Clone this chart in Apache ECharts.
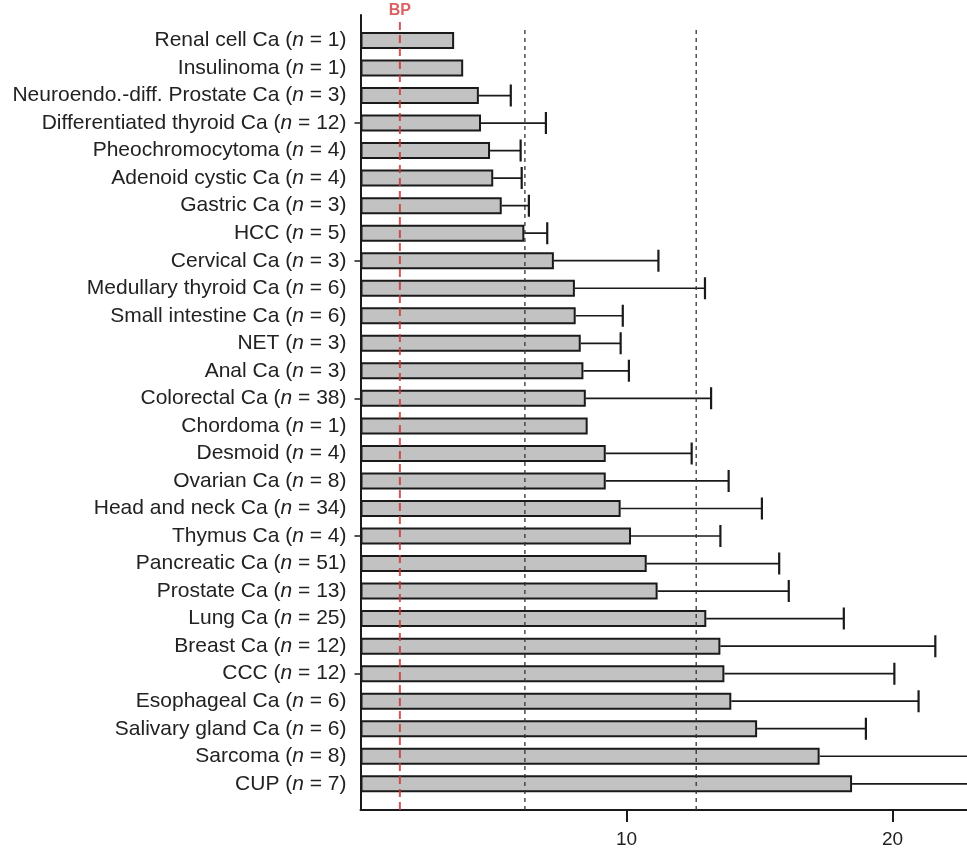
<!DOCTYPE html>
<html>
<head>
<meta charset="utf-8">
<script src="https://cdn.jsdelivr.net/npm/echarts@6/dist/echarts.min.js"></script>
<style>
html,body{margin:0;padding:0;background:#fff;}
#chart{width:967px;height:854px;}
</style>
</head>
<body>
<div id="chart"></div>
<script>
// ---- data ----
const categories = [
  "Renal cell Ca", "Insulinoma", "Neuroendo.-diff. Prostate Ca", "Differentiated thyroid Ca",
  "Pheochromocytoma", "Adenoid cystic Ca", "Gastric Ca", "HCC", "Cervical Ca",
  "Medullary thyroid Ca", "Small intestine Ca", "NET", "Anal Ca", "Colorectal Ca",
  "Chordoma", "Desmoid", "Ovarian Ca", "Head and neck Ca", "Thymus Ca", "Pancreatic Ca",
  "Prostate Ca", "Lung Ca", "Breast Ca", "CCC", "Esophageal Ca", "Salivary gland Ca",
  "Sarcoma", "CUP"
];
const counts = [1, 1, 3, 12, 4, 4, 3, 5, 3, 6, 6, 3, 3, 38, 1, 4, 8, 34, 4, 51, 13, 25, 12, 12, 6, 6, 8, 7];
const means = [3.52, 3.86, 4.45, 4.53, 4.87, 4.99, 5.31, 6.16, 7.27, 8.06, 8.09, 8.28, 8.38, 8.47,
  8.54, 9.22, 9.22, 9.78, 10.17, 10.76, 11.17, 13.0, 13.53, 13.68, 13.94, 14.91, 17.26, 18.48];
const errUpper = [null, null, 5.65, 6.97, 6.02, 6.06, 6.33, 7.02, 11.2, 12.95, 9.86, 9.78, 10.09, 13.18,
  null, 12.45, 13.84, 15.09, 13.53, 15.74, 16.1, 18.17, 21.61, 20.07, 20.98, 19.0, 25.0, 24.0];
const bpValue = 1.48;
const refValues = [6.18, 12.62];
const xTickInterval = 10;

// ---- layout constants ----
const W = 967;
const X0 = 360.5, PX_PER_UNIT = 26.6;
const XMAX = (W - X0) / PX_PER_UNIT;   // visible part of the axis (image is cropped at the right)
const GRID_W = W - X0;
const AXIS_TOP = 15, AXIS_Y = 810;
const BAND = 27.53, BARS_TOP = 26.7;
const FONT = "'Liberation Sans', Arial, sans-serif";
const INK = '#1a1a1a';

const chart = echarts.init(document.getElementById('chart'), null, {renderer: 'canvas'});

const errData = errUpper.map((e, i) => [i, means[i], e]).filter(d => d[2] !== null);

const option = {
  backgroundColor: '#fff',
  animation: false,
  grid: [
    {left: X0, top: AXIS_TOP, width: GRID_W, height: AXIS_Y - AXIS_TOP, containLabel: false},
    {left: X0, top: BARS_TOP, width: GRID_W, height: BAND * categories.length, containLabel: false}
  ],
  xAxis: [
    {
      gridIndex: 0, type: 'value', min: 0, max: XMAX, interval: xTickInterval,
      axisLine: {show: true, lineStyle: {color: INK, width: 2}},
      axisTick: {show: true, length: 12, lineStyle: {color: INK, width: 2}},
      axisLabel: {show: true, showMinLabel: false, showMaxLabel: false, margin: 20, fontSize: 19,
        fontFamily: FONT, color: '#222'},
      splitLine: {show: false}
    },
    {
      gridIndex: 1, type: 'value', min: 0, max: XMAX, show: false
    }
  ],
  yAxis: [
    {
      gridIndex: 0, type: 'value', min: 0, max: 1,
      axisLine: {show: true, lineStyle: {color: INK, width: 2}},
      axisTick: {show: false}, axisLabel: {show: false}, splitLine: {show: false}
    },
    {
      gridIndex: 1, type: 'category', data: categories, inverse: true,
      axisLine: {show: false},
      axisTick: {show: true, alignWithLabel: true, length: 6, inside: false,
        interval: (i) => i % 5 === 3, lineStyle: {color: INK, width: 1.5}},
      axisLabel: {
        show: true, interval: 0, margin: 14, fontSize: 21, fontFamily: FONT, color: '#222',
        formatter: (v) => {
          const i = categories.indexOf(v);
          return v + ' ({it|n} = ' + counts[i] + ')';
        },
        rich: {it: {fontStyle: 'italic', fontSize: 21, fontFamily: FONT, color: '#222'}}
      },
      splitLine: {show: false}
    }
  ],
  series: [
    {
      type: 'bar', xAxisIndex: 1, yAxisIndex: 1, data: means,
      barWidth: 17,
      itemStyle: {color: '#c2c2c2', borderColor: INK, borderWidth: 2},
      z: 2
    },
    {
      type: 'custom', xAxisIndex: 1, yAxisIndex: 1, data: errData,
      encode: {x: [1, 2], y: 0},
      clip: true,
      renderItem: (params, api) => {
        const idx = api.value(0);
        const start = api.coord([api.value(1), idx]);
        const end = api.coord([api.value(2), idx]);
        const cap = 11;
        return {
          type: 'group',
          children: [
            {type: 'line', shape: {x1: start[0], y1: start[1], x2: end[0], y2: end[1]},
              style: {stroke: INK, lineWidth: 1.7}},
            {type: 'line', shape: {x1: end[0], y1: end[1] - cap, x2: end[0], y2: end[1] + cap},
              style: {stroke: INK, lineWidth: 2.2}}
          ]
        };
      },
      z: 3
    },
    ...refValues.map(v => ({
      type: 'line', xAxisIndex: 0, yAxisIndex: 0,
      data: [[v, 0], [v, 0.981]],
      symbol: 'none',
      lineStyle: {color: '#333', width: 1.3, type: [4, 4]},
      z: 5, silent: true
    })),
    {
      type: 'line', xAxisIndex: 0, yAxisIndex: 0,
      data: [[bpValue, 0], [bpValue, 0.994]],
      symbol: 'none',
      lineStyle: {color: 'rgba(205,55,55,0.85)', width: 2, type: [8, 5]},
      z: 6, silent: true
    },
    {
      type: 'scatter', xAxisIndex: 0, yAxisIndex: 0,
      data: [[bpValue, 0.994]],
      symbolSize: 1,
      itemStyle: {color: 'rgba(0,0,0,0)'},
      label: {show: true, formatter: 'BP', position: 'top', distance: 1,
        color: '#d23a3a', fontSize: 16, fontWeight: 'bold', fontFamily: FONT},
      z: 7, silent: true
    }
  ]
};
chart.setOption(option);
</script>
</body>
</html>
